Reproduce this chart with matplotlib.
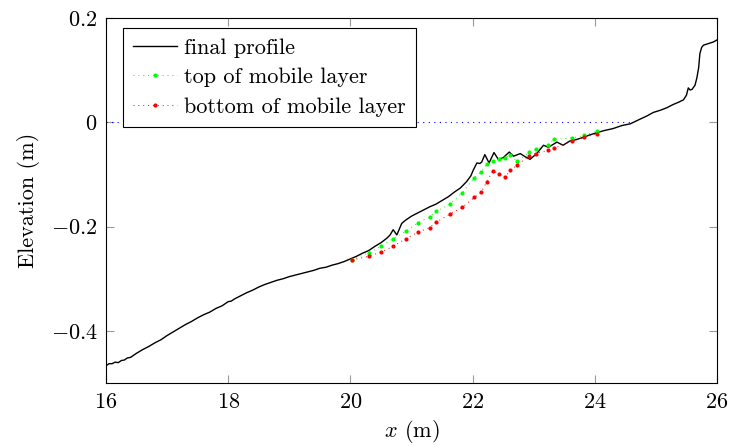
import matplotlib
matplotlib.use("Agg")
import matplotlib.pyplot as plt

plt.rcParams['font.family'] = 'serif'
plt.rcParams['font.serif'] = ['cmr10']
plt.rcParams['mathtext.fontset'] = 'cm'
plt.rcParams['axes.formatter.use_mathtext'] = True
plt.rcParams['axes.unicode_minus'] = True

# final profile
prof_x = [16.0, 16.05, 16.1, 16.15, 16.2, 16.25, 16.3, 16.35, 16.4, 16.5, 16.6, 16.7, 16.8, 16.9,
          17.0, 17.1, 17.2, 17.3, 17.4, 17.5, 17.6, 17.7, 17.8, 17.9,
          18.0, 18.05, 18.1, 18.2, 18.3, 18.4, 18.5, 18.6, 18.7, 18.8, 18.9,
          19.0, 19.1, 19.2, 19.3, 19.4, 19.5, 19.6, 19.7, 19.8, 19.9,
          20.0, 20.1, 20.2, 20.3, 20.4, 20.5, 20.6, 20.65, 20.7, 20.76, 20.84, 20.9,
          21.0, 21.1, 21.2, 21.3, 21.4, 21.5, 21.6, 21.7, 21.8, 21.9, 21.97,
          22.01, 22.07, 22.12, 22.15, 22.2, 22.27, 22.35, 22.42, 22.5, 22.6, 22.67,
          22.78, 22.86, 22.94, 23.05, 23.16, 23.24, 23.38, 23.48, 23.59, 23.7,
          23.81, 23.9, 24.03, 24.15, 24.3, 24.45, 24.58, 24.74, 24.85, 24.96,
          25.07, 25.18, 25.28, 25.38, 25.45, 25.5, 25.53, 25.56, 25.59, 25.64,
          25.67, 25.7, 25.72, 25.75, 25.78, 25.86, 25.94, 26.0]
prof_y = [-0.467, -0.463, -0.463, -0.460, -0.461, -0.457, -0.456, -0.452, -0.451, -0.443, -0.436, -0.430, -0.423, -0.417,
          -0.409, -0.402, -0.395, -0.388, -0.382, -0.375, -0.369, -0.364, -0.357, -0.352,
          -0.344, -0.343, -0.339, -0.333, -0.327, -0.322, -0.316, -0.311, -0.307, -0.303, -0.300,
          -0.296, -0.293, -0.290, -0.287, -0.284, -0.280, -0.278, -0.274, -0.271, -0.267,
          -0.262, -0.257, -0.251, -0.246, -0.238, -0.231, -0.222, -0.216, -0.206, -0.216, -0.194, -0.188,
          -0.180, -0.174, -0.168, -0.162, -0.157, -0.150, -0.143, -0.134, -0.126, -0.114, -0.103,
          -0.092, -0.078, -0.079, -0.076, -0.062, -0.078, -0.058, -0.071, -0.068, -0.057, -0.065,
          -0.060, -0.066, -0.071, -0.060, -0.044, -0.048, -0.038, -0.044, -0.036, -0.033,
          -0.029, -0.025, -0.020, -0.016, -0.012, -0.006, -0.003, 0.006, 0.012, 0.019,
          0.023, 0.028, 0.034, 0.039, 0.043, 0.052, 0.066, 0.062, 0.063, 0.071,
          0.085, 0.105, 0.132, 0.144, 0.148, 0.151, 0.154, 0.158]

# top of mobile layer
top_x = [20.02, 20.30, 20.50, 20.70, 20.91, 21.10, 21.30, 21.40, 21.63, 21.83, 22.03, 22.14,
         22.23, 22.33, 22.44, 22.53, 22.62, 22.73, 22.93, 23.03, 23.23, 23.33, 23.63, 23.83, 24.03]
top_y = [-0.264, -0.250, -0.238, -0.223, -0.209, -0.193, -0.181, -0.171, -0.157, -0.135, -0.106, -0.095,
         -0.080, -0.074, -0.071, -0.068, -0.063, -0.075, -0.057, -0.052, -0.043, -0.033, -0.030, -0.025, -0.017]

# bottom of mobile layer
bot_x = top_x
bot_y = [-0.264, -0.257, -0.249, -0.238, -0.223, -0.211, -0.202, -0.192, -0.176, -0.163, -0.144, -0.134,
         -0.115, -0.093, -0.100, -0.105, -0.092, -0.082, -0.064, -0.060, -0.054, -0.050, -0.036, -0.029, -0.022]

# still water level
swl_x = [16.0, 24.6]
swl_y = [0.0, 0.0]

xticks = [16, 18, 20, 22, 24, 26]
yticks = [-0.4, -0.2, 0.0, 0.2]
ytick_labels = [r'$-0.4$', r'$-0.2$', r'$0$', r'$0.2$']

FS = 16

fig = plt.figure(figsize=(7.3, 4.46), dpi=100)
ax = fig.add_axes([0.1452, 0.1413, 0.837, 0.8183])

ax.plot(swl_x, swl_y, color='blue', linestyle=(0, (1, 4)), linewidth=0.8)
ax.plot(prof_x, prof_y, color='black', linewidth=1.0, label='final profile')
ax.plot(top_x, top_y, color='#00ff00', linestyle=(0, (1, 4)), linewidth=0.7,
        marker='o', markersize=3.0, markeredgewidth=0, label='top of mobile layer')
ax.plot(bot_x, bot_y, color='red', linestyle=(0, (1, 4)), linewidth=0.7,
        marker='o', markersize=3.0, markeredgewidth=0, label='bottom of mobile layer')

ax.set_xlim(16, 26)
ax.set_ylim(-0.5, 0.2)
ax.set_xticks(xticks)
ax.set_xticklabels([rf'${t}$' for t in xticks])
ax.set_yticks(yticks)
ax.set_yticklabels(ytick_labels)
ax.tick_params(direction='in', length=6, width=0.8, color='#999999',
               top=True, right=True, labelsize=FS)
ax.tick_params(axis='x', pad=7)
ax.tick_params(axis='y', pad=6)
for s in ax.spines.values():
    s.set_linewidth(0.8)

ax.set_xlabel(r'$x$ (m)', fontsize=FS, labelpad=4)
ax.set_ylabel('Elevation (m)', fontsize=FS, labelpad=8)

leg = ax.legend(loc='upper left', bbox_to_anchor=(0.0278, 0.9726), fontsize=FS,
                frameon=True, fancybox=False, edgecolor='black', framealpha=1,
                numpoints=1, handlelength=2.0, borderaxespad=0.0,
                labelspacing=0.45, handletextpad=0.3, borderpad=0.45)
leg.get_frame().set_linewidth(0.8)

fig.savefig('out.png', dpi=100)
